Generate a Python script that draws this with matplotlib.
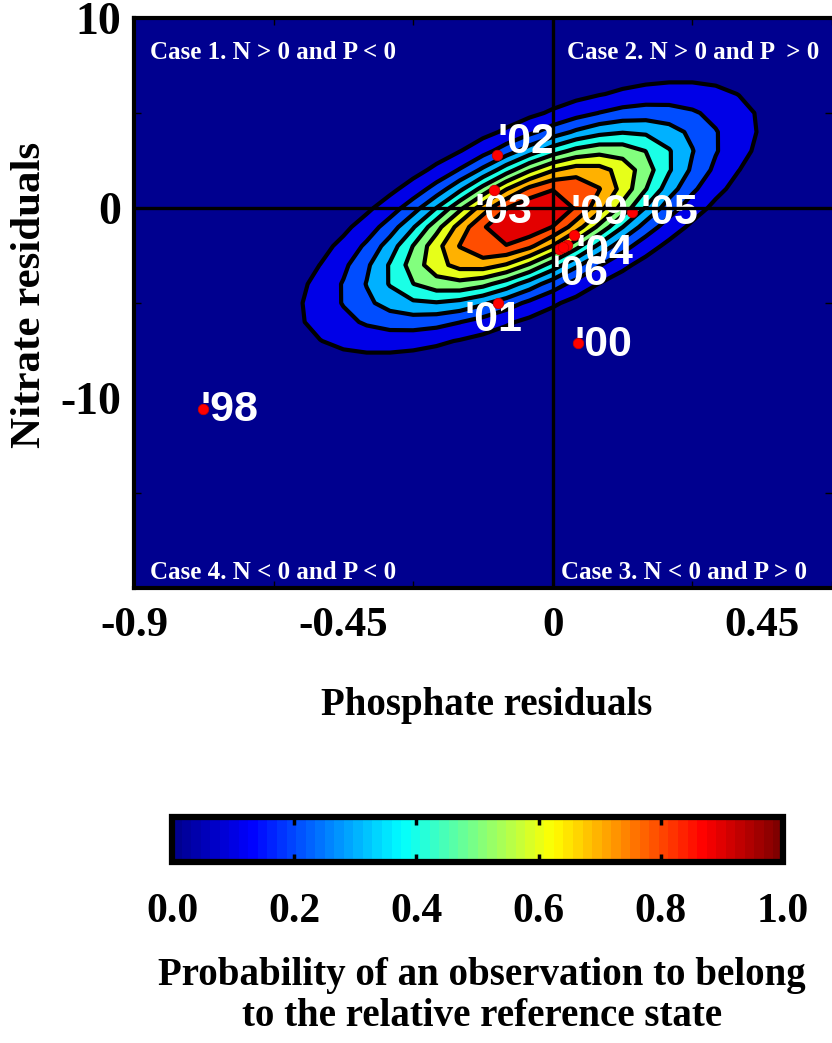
import numpy as np
import matplotlib
matplotlib.use("Agg")
import matplotlib.pyplot as plt
from matplotlib.colors import LinearSegmentedColormap, Normalize
from matplotlib.cm import ScalarMappable

# ---------------- data ----------------
# reference-state bivariate normal (probability surface, peak = 1)
ref_mean_p = -0.05     # phosphate residual centre
ref_mean_n = -0.5      # nitrate residual centre
ref_sd_p = 0.227
ref_sd_n = 3.3
ref_rho = 0.68

prob_levels = [0.0, 0.1, 0.2, 0.3, 0.4, 0.5, 0.6, 0.7, 0.8, 0.9, 1.0001]

years = ["'98", "'02", "'03", "'01", "'00", "'05", "'09", "'04", "'06", ""]
obs_p = [-0.751, -0.120, -0.127, -0.118, 0.054, 0.170, 0.045, 0.030, 0.013, 0.022]
obs_n = [-10.58, 2.79, 0.95, -5.00, -7.10, -0.21, -1.42, -1.95, -2.16, -2.05]
# label anchor (left edge, vertical centre)
lab_p = [-0.757, -0.118, -0.168, -0.189, 0.047, 0.189, 0.037, 0.049, -0.004, 0.0]
lab_n = [-10.63, 3.47, -0.21, -5.89, -7.21, -0.26, -0.26, -2.37, -3.45, 0.0]

xtick_vals = [-0.9, -0.45, 0, 0.45]
xtick_labels = ["-0.9", "-0.45", "0", "0.45"]
ytick_vals = [10, 0, -10]
ytick_labels = ["10", "0", "-10"]
cbar_ticks = [0.0, 0.2, 0.4, 0.6, 0.8, 1.0]
cbar_tick_labels = ["0.0", "0.2", "0.4", "0.6", "0.8", "1.0"]

case_texts = ["Case 1. N > 0 and P < 0", "Case 2. N > 0 and P  > 0",
              "Case 3. N < 0 and P > 0", "Case 4. N < 0 and P < 0"]

# ---------------- style ----------------
serif = ["Liberation Serif", "DejaVu Serif"]
sans = ["Liberation Sans", "DejaVu Sans"]

jet_m = LinearSegmentedColormap("jet_m", {
    'red':   [(0, 0, 0), (0.375, 0, 0), (0.625, 1, 1), (0.875, 1, 1), (1, 0.5, 0.5)],
    'green': [(0, 0, 0), (0.125, 0, 0), (0.375, 1, 1), (0.625, 1, 1), (0.875, 0, 0), (1, 0, 0)],
    'blue':  [(0, 0.5625, 0.5625), (0.125, 1, 1), (0.375, 1, 1), (0.625, 0, 0), (1, 0, 0)],
}, N=256)
jet64 = jet_m.resampled(64)

W, H = 832, 1043
fig = plt.figure(figsize=(W / 100, H / 100), dpi=100)

def px_rect(l, t, r, b):
    return [l / W, 1 - b / H, (r - l) / W, (b - t) / H]

ax = fig.add_axes(px_rect(134, 18, 832, 588))
xmin, xmax, ymin, ymax = -0.9, 0.6, -20, 10

# probability surface on a coarse grid (like original)
gx = np.linspace(xmin, xmax, 31)
gy = np.linspace(ymin, ymax, 31)
X, Y = np.meshgrid(gx, gy)
zx = (X - ref_mean_p) / ref_sd_p
zy = (Y - ref_mean_n) / ref_sd_n
Q = (zx ** 2 - 2 * ref_rho * zx * zy + zy ** 2) / (1 - ref_rho ** 2)
Z = np.exp(-0.5 * Q)

band_colors = [jet_m(l) for l in prob_levels[:-1]]
ax.contourf(X, Y, Z, levels=prob_levels, colors=band_colors, zorder=1)
ax.contour(X, Y, Z, levels=prob_levels[1:-1], colors="black", linewidths=3.0, zorder=2)

# year labels and points
for yr, lx, ly in zip(years, lab_p, lab_n):
    if yr:
        ax.text(lx, ly, yr, color="white", fontsize=31, fontweight="bold",
                family=sans, ha="left", va="center", zorder=3)
ax.plot(obs_p, obs_n, "o", color="red", markersize=7.5, markeredgecolor="#cc0000",
        markeredgewidth=0.6, zorder=4, linestyle="none")

ax.axhline(0, color="black", lw=2.4, zorder=5)
ax.axvline(0, color="black", lw=2.4, zorder=5)

ax.set_xlim(xmin, xmax)
ax.set_ylim(ymin, ymax)

# case annotations
case_kw = dict(color="white", fontsize=18, fontweight="bold", family=serif, zorder=6)
ax.text(-0.865, 8.2, case_texts[0], ha="left", va="center", **case_kw)
ax.text(0.031, 8.2, case_texts[1], ha="left", va="center", **case_kw)
ax.text(0.018, -19.2, case_texts[2], ha="left", va="center", **case_kw)
ax.text(-0.865, -19.2, case_texts[3], ha="left", va="center", **case_kw)

# ticks
ax.set_xticks(xtick_vals)
ax.set_xticklabels(xtick_labels)
ax.set_yticks(ytick_vals)
ax.set_yticklabels(ytick_labels)
ax.set_xticks(np.arange(-0.9, 0.61, 0.3), minor=True)
ax.set_yticks(np.arange(-20, 10.1, 5), minor=True)
ax.tick_params(which="major", length=0, pad=14)
ax.tick_params(axis="y", which="major", pad=9)
ax.tick_params(which="minor", direction="in", length=5, width=1, color="black",
               top=True, right=True)
for lab in ax.get_xticklabels():
    lab.set_fontsize(31)
    lab.set_fontweight("bold")
    lab.set_family(serif)
for lab in ax.get_yticklabels():
    lab.set_fontsize(33)
    lab.set_fontweight("bold")
    lab.set_family(serif)
for side in ["left", "top", "bottom"]:
    ax.spines[side].set_linewidth(3)
ax.spines["right"].set_visible(False)

fig.text(487 / W, 1 - 706 / H, "Phosphate residuals", ha="center", va="center",
         fontsize=28, fontweight="bold", family=serif)
fig.text(30 / W, 1 - 295 / H, "Nitrate residuals", ha="center", va="center",
         rotation=90, fontsize=31, fontweight="bold", family=serif)

# colorbar
cax = fig.add_axes(px_rect(172, 817, 783, 862))
cb = fig.colorbar(ScalarMappable(norm=Normalize(0, 1), cmap=jet64), cax=cax,
                  orientation="horizontal")
cb.outline.set_linewidth(4.5)
cb.set_ticks(cbar_ticks)
cb.set_ticklabels(cbar_tick_labels)
cax.tick_params(axis="x", direction="in", length=6, width=2.5, color="black",
                top=True, bottom=True, pad=22)
for lab in cax.get_xticklabels():
    lab.set_fontsize(30)
    lab.set_fontweight("bold")
    lab.set_family(serif)

fig.text(482 / W, 1 - 975 / H, "Probability of an observation to belong",
         ha="center", va="center", fontsize=28, fontweight="bold", family=serif)
fig.text(482 / W, 1 - 1017 / H, "to the relative reference state",
         ha="center", va="center", fontsize=28, fontweight="bold", family=serif)

fig.savefig("out.png", dpi=100)
